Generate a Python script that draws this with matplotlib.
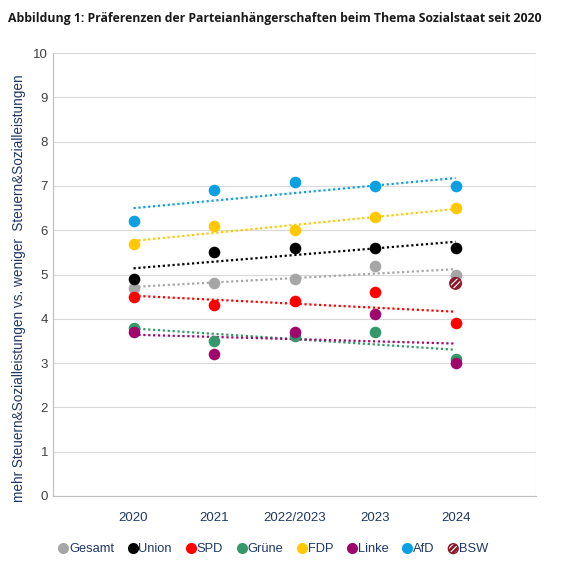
import numpy as np
import matplotlib
matplotlib.use('Agg')
import matplotlib.pyplot as plt
from matplotlib.lines import Line2D

# Data
years = ['2020', '2021', '2022/2023', '2023', '2024']
gesamt = [4.7, 4.8, 4.9, 5.2, 5.0]
union = [4.9, 5.5, 5.6, 5.6, 5.6]
spd = [4.5, 4.3, 4.4, 4.6, 3.9]
gruene = [3.8, 3.5, 3.6, 3.7, 3.1]
fdp = [5.7, 6.1, 6.0, 6.3, 6.5]
linke = [3.7, 3.2, 3.7, 4.1, 3.0]
afd = [6.2, 6.9, 7.1, 7.0, 7.0]
bsw = [4.8]

series = [
    ('Gesamt', gesamt, '#a6a6a6'),
    ('Union', union, '#000000'),
    ('SPD', spd, '#ff0000'),
    ('Grüne', gruene, '#33996a'),
    ('FDP', fdp, '#ffc800'),
    ('Linke', linke, '#a0076d'),
    ('AfD', afd, '#0aa0e2'),
]
bsw_color = '#8b1a2b'
text_color = '#1f3864'

plt.rcParams['font.family'] = ['Liberation Sans', 'DejaVu Sans']
plt.rcParams['hatch.linewidth'] = 2.0

fig = plt.figure(figsize=(5.67, 5.66), dpi=100)
ax = fig.add_axes([0.0935, 0.124, 0.852, 0.782])

x = np.arange(1, len(years) + 1)

# Trend lines first, points on top
for name, vals, col in series:
    k, d = np.polyfit(x, vals, 1)
    ax.plot(x, k * x + d, linestyle=(0, (1, 1.2)), color=col, lw=1.6, zorder=2)

for name, vals, col in series:
    ax.scatter(x, vals, s=70, color=col, zorder=3, linewidths=0)

ax.scatter([x[-1]], bsw, s=70, facecolor='white', edgecolor=bsw_color,
           hatch='//////', linewidths=1.0, zorder=4)

ax.set_xlim(0, 6)
ax.set_ylim(0, 10)
ax.set_yticks(range(0, 11))
ax.set_xticks(x)
ax.set_xticklabels(years)
ax.set_xticks(np.arange(0, 7), minor=True)
ax.grid(True, which='minor', axis='x', color='#d9d9d9', lw=0.8)
ax.grid(True, which='major', axis='y', color='#d9d9d9', lw=0.8)
ax.set_axisbelow(True)
ax.tick_params(axis='both', which='both', length=0, labelsize=9.5, colors='#404040')
ax.tick_params(axis='x', labelcolor=text_color, pad=12)
for sp in ['top', 'right']:
    ax.spines[sp].set_visible(False)
for sp in ['left', 'bottom']:
    ax.spines[sp].set_color('#bfbfbf')
    ax.spines[sp].set_linewidth(0.8)

ax.set_ylabel('mehr Steuern&Sozialleistungen vs. weniger  Steuern&Sozialleistungen',
              fontsize=9.8, color=text_color)
ax.yaxis.set_label_coords(-0.055, 0.47)

fig.text(0.014, 0.968, 'Abbildung 1: Präferenzen der Parteianhängerschaften beim Thema Sozialstaat seit 2020',
         fontsize=8.8, fontweight='bold', family=['Open Sans', 'DejaVu Sans'], color='#1a1a1a',
         va='center', ha='left')

handles = [Line2D([], [], marker='o', linestyle='none', markersize=8,
                  markerfacecolor=col, markeredgewidth=0, label=name)
           for name, vals, col in series]
bsw_handle = ax.scatter([], [], s=50, facecolor='white', edgecolor=bsw_color,
                        hatch='//////', linewidths=1.0, label='BSW')
handles.append(bsw_handle)
leg = fig.legend(handles=handles, loc='center', bbox_to_anchor=(0.48, 0.03), ncol=8,
                 frameon=False, fontsize=9.3, handletextpad=-0.1, columnspacing=0.9,
                 handlelength=1.1)
for t in leg.get_texts():
    t.set_color(text_color)

fig.savefig('out.png', dpi=100)
